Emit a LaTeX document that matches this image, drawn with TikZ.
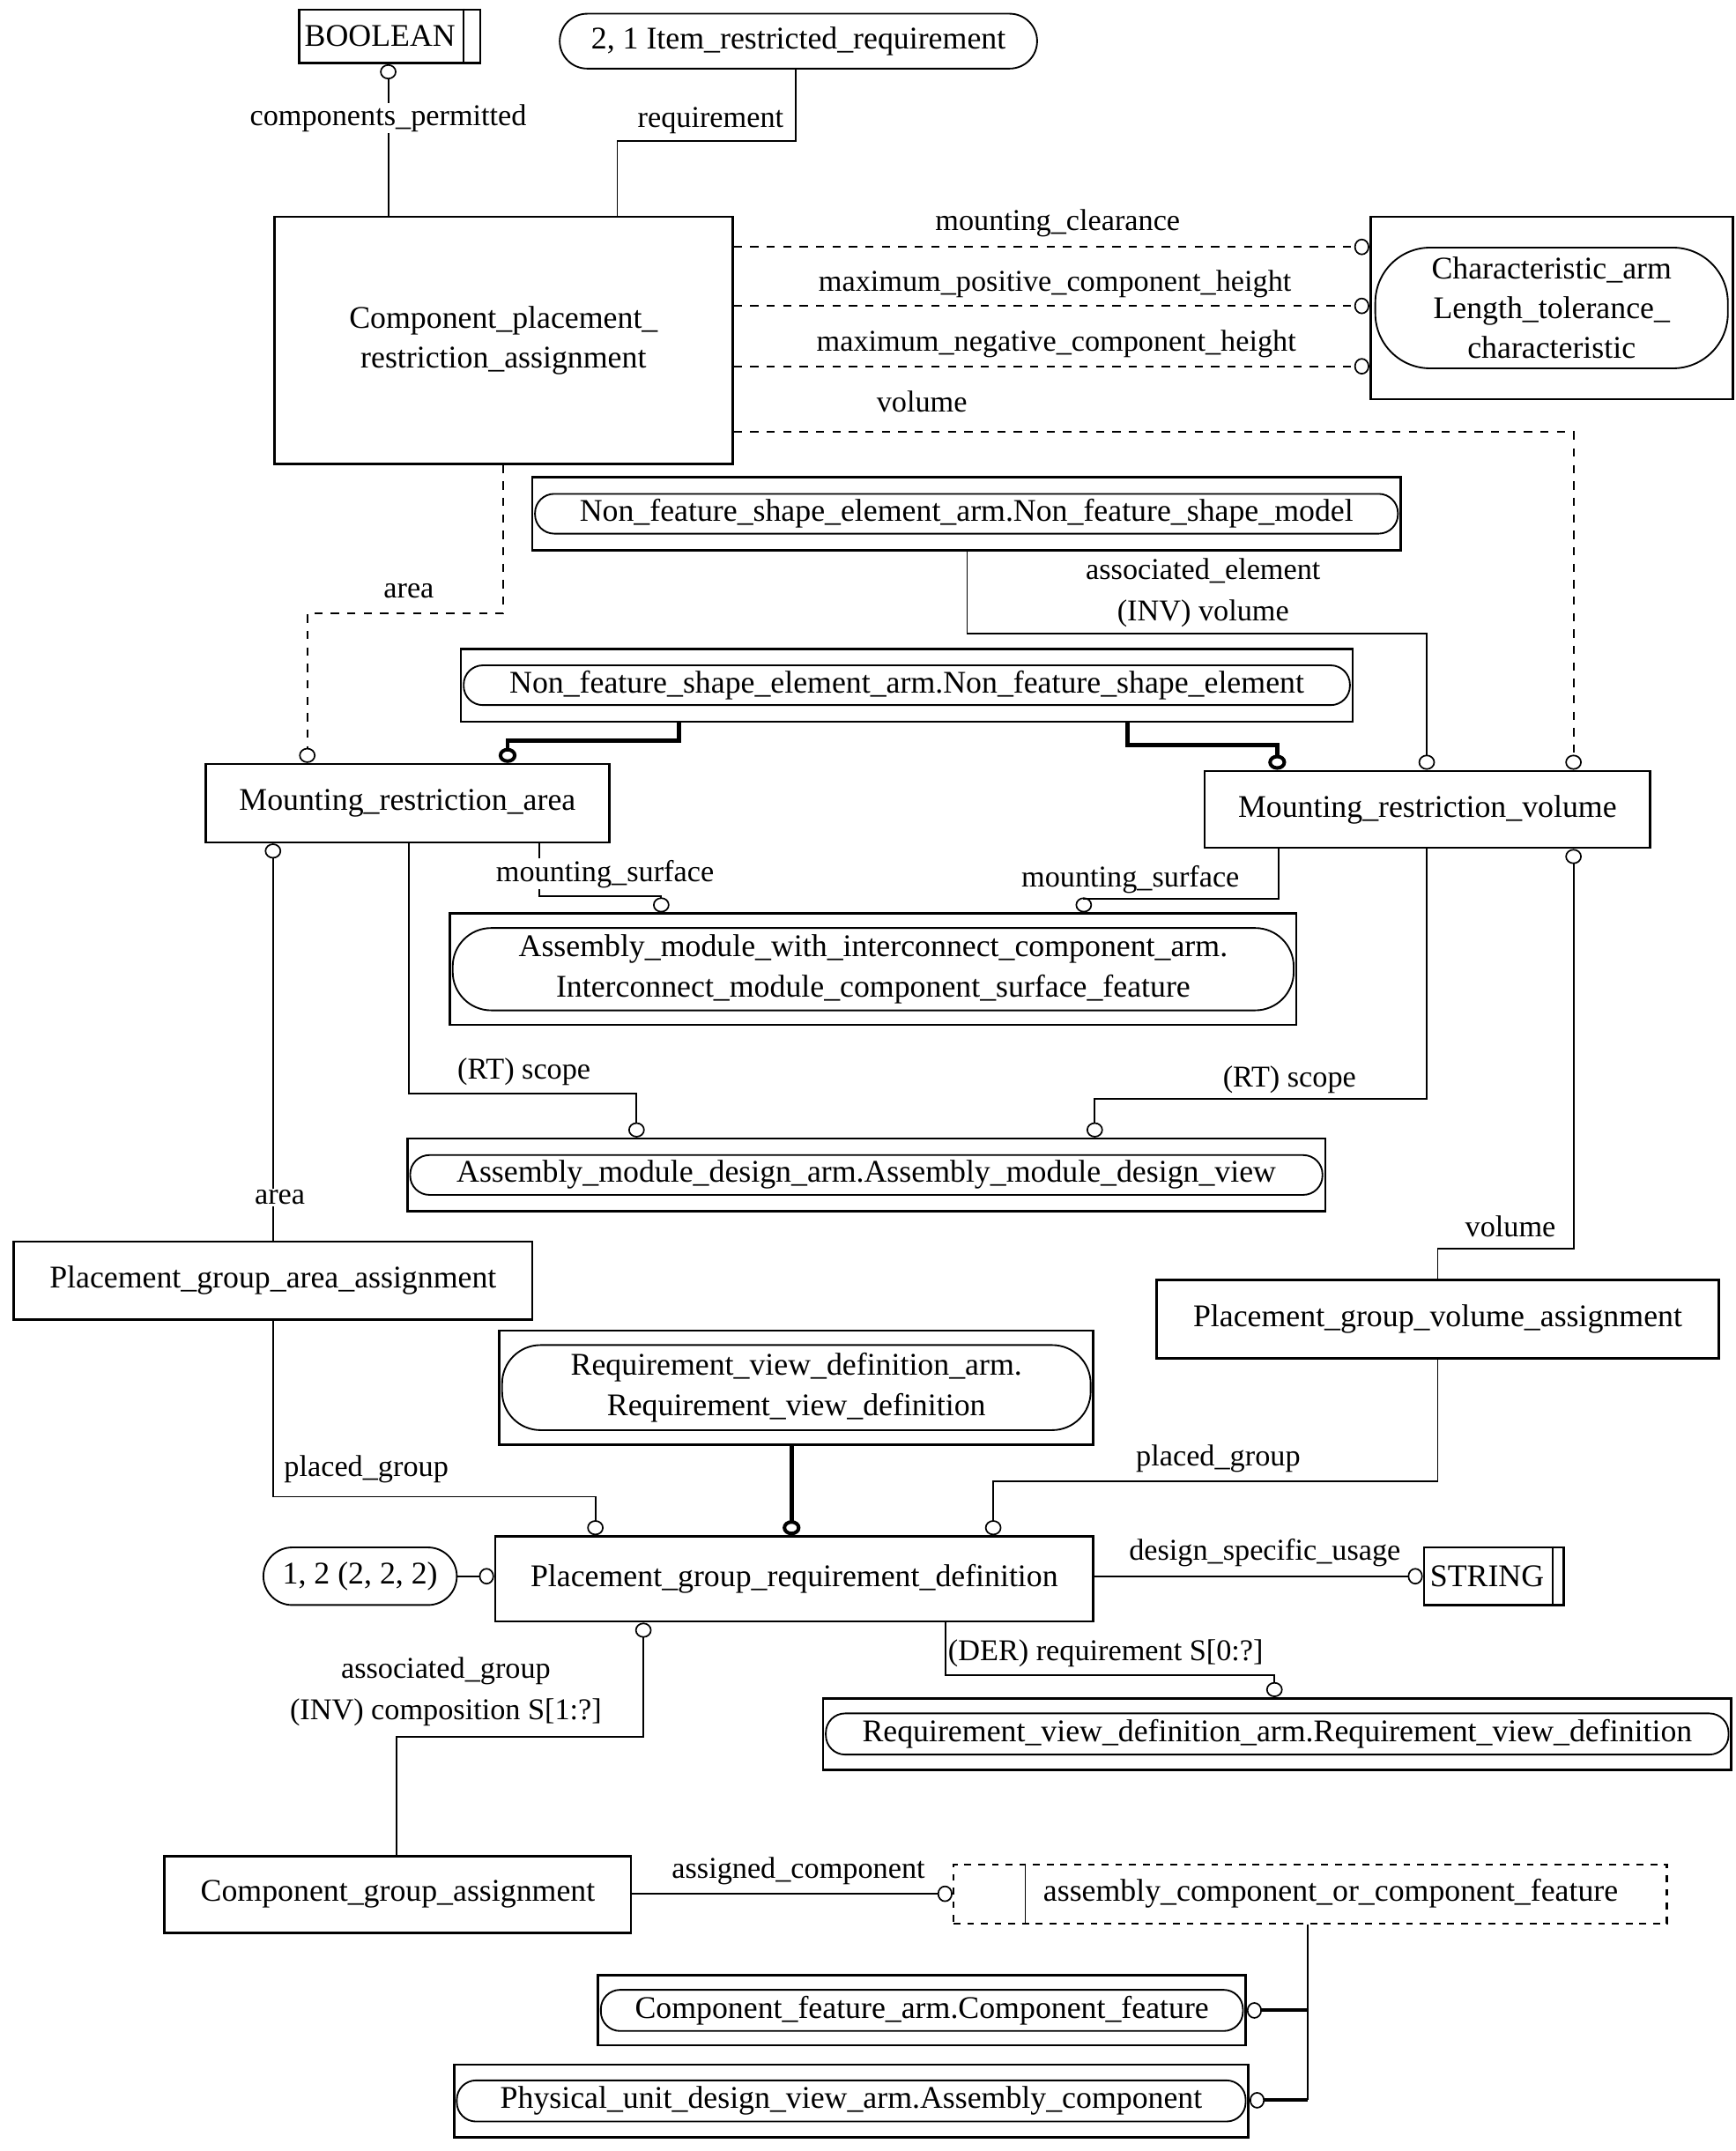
\documentclass[tikz,border=0pt]{standalone}
\usepackage{fontspec}
\setmainfont{Liberation Serif}
\usetikzlibrary{arrows.meta, positioning}

\begin{document}
\begin{tikzpicture}[x=1pt, y=-1pt,
  ent/.style={rectangle, draw, line width=1.7pt, inner sep=0pt, align=center,
              font=\fontsize{23}{29}\selectfont},
  pill/.style={ent, line width=1.2pt, rounded corners=14pt},
  lbl/.style={inner sep=1pt, fill=white, align=center,
              font=\fontsize{22}{30}\selectfont},
  rel/.style={line width=1.2pt},
  dl/.style={rel, dash pattern=on 6pt off 6pt},
  opt/.style={-{Circle[open, length=11pt, width=12pt, line width=1.1pt]}},
  subl/.style={line width=3pt, -{Circle[open, length=11pt, width=13pt, line width=2.6pt]}},
  brl/.style={line width=2.6pt},
]
  \useasboundingbox (0,0) rectangle (1265,1568);

  % entities
  \node[ent, minimum width=132pt, minimum height=39pt] (bool) at (284,26.5) {BOOLEAN\hspace*{14pt}};
  \draw[line width=1pt] ([xshift=-13pt]bool.north east) -- ([xshift=-13pt]bool.south east);
  \node[pill, rounded corners=20pt, minimum width=348pt, minimum height=40pt] (irr) at (582,30) {2, 1 Item\_restricted\_requirement};
  \node[ent, minimum width=334pt, minimum height=180pt] (cpra) at (367,248) {Component\_placement\_\\restriction\_assignment};

  \node[ent, minimum width=264pt, minimum height=133pt] (lench) at (1131,224.5) {};
  \node[pill, rounded corners=40pt, minimum width=257pt, minimum height=88pt] (lenchi) at (lench) {Characteristic\_arm\\Length\_tolerance\_\\characteristic};

  \node[ent, minimum width=633pt, minimum height=53pt] (nfsm) at (704.5,374.5) {};
  \node[pill, minimum width=629pt, minimum height=29pt] (nfsmi) at (nfsm) {Non\_feature\_shape\_element\_arm.Non\_feature\_shape\_model};
  \node[ent, minimum width=650pt, minimum height=53pt] (nfse) at (661,499.5) {};
  \node[pill, minimum width=646pt, minimum height=29pt] (nfsei) at (nfse) {Non\_feature\_shape\_element\_arm.Non\_feature\_shape\_element};

  \node[ent, minimum width=294pt, minimum height=57pt] (mra) at (297,585.5) {Mounting\_restriction\_area};
  \node[ent, minimum width=325pt, minimum height=56pt] (mrv) at (1040.5,590) {Mounting\_restriction\_volume};

  \node[ent, minimum width=617pt, minimum height=81pt] (amicsf) at (636.5,706.5) {};
  \node[pill, rounded corners=28pt, minimum width=613pt, minimum height=60pt] (amicsfi) at (amicsf) {Assembly\_module\_with\_interconnect\_component\_arm.\\Interconnect\_module\_component\_surface\_feature};
  \node[ent, minimum width=669pt, minimum height=53pt] (amdv) at (631.5,856.5) {};
  \node[pill, minimum width=665pt, minimum height=29pt] (amdvi) at (amdv) {Assembly\_module\_design\_arm.Assembly\_module\_design\_view};

  \node[ent, minimum width=378pt, minimum height=57pt] (pgaa) at (199,933.5) {Placement\_group\_area\_assignment};
  \node[ent, minimum width=410pt, minimum height=57pt] (pgva) at (1048,961.5) {Placement\_group\_volume\_assignment};

  \node[ent, minimum width=433pt, minimum height=83pt] (rvd) at (580.5,1011.5) {};
  \node[pill, rounded corners=28pt, minimum width=429pt, minimum height=62pt] (rvdi) at (rvd) {Requirement\_view\_definition\_arm.\\Requirement\_view\_definition};

  \node[ent, minimum width=436pt, minimum height=62pt] (pgrd) at (579,1151) {Placement\_group\_requirement\_definition};
  \node[pill, rounded corners=21pt, minimum width=141pt, minimum height=42pt] (card) at (262.5,1149) {1, 2 (2, 2, 2)};
  \node[ent, minimum width=102pt, minimum height=42pt] (str) at (1089,1149) {STRING\hspace*{10pt}};
  \draw[line width=1pt] ([xshift=-9pt]str.north east) -- ([xshift=-9pt]str.south east);

  \node[ent, minimum width=662pt, minimum height=52pt] (rvdb) at (931,1264) {};
  \node[pill, minimum width=658pt, minimum height=30pt] (rvdbi) at (rvdb) {Requirement\_view\_definition\_arm.Requirement\_view\_definition};

  \node[ent, minimum width=340pt, minimum height=56pt] (cga) at (290,1381) {Component\_group\_assignment};
  \node[ent, dash pattern=on 5pt off 5pt, line width=1.3pt, minimum width=520pt, minimum height=43pt] (sel) at (955,1380.5) {\hspace*{30pt}assembly\_component\_or\_component\_feature};
  \draw[line width=0.8pt] ([xshift=53pt]sel.north west) -- ([xshift=53pt]sel.south west);

  \node[ent, minimum width=472pt, minimum height=51pt] (cf) at (672,1465.5) {};
  \node[pill, minimum width=468pt, minimum height=30pt] (cfi) at (cf) {Component\_feature\_arm.Component\_feature};
  \node[ent, minimum width=579pt, minimum height=53pt] (pa) at (620.5,1531.5) {};
  \node[pill, minimum width=575pt, minimum height=30pt] (pai) at (pa) {Physical\_unit\_design\_view\_arm.Assembly\_component};

  % relations
  \draw[rel, opt] (cpra.north -| 283,0) -- (bool.south -| 283,0);
  \draw[rel] (cpra.north -| 450,0) |- (580,103) -- (irr.south -| 580,0);
  \draw[dl, opt] (cpra.east |- 0,180) -- (lench.west |- 0,180);
  \draw[dl, opt] (cpra.east |- 0,223) -- (lench.west |- 0,223);
  \draw[dl, opt] (cpra.east |- 0,267) -- (lench.west |- 0,267);
  \draw[dl, opt] (cpra.east |- 0,315) -| (mrv.north -| 1147,0);
  \draw[dl, opt] (cpra.south -| 367,0) |- (224,447) -- (mra.north -| 224,0);
  \draw[rel, opt] (nfsm.south -| 705,0) |- (1040,462) -- (mrv.north -| 1040,0);
  \draw[subl] (nfse.south -| 495,0) |- (370,540) -- (mra.north -| 370,0);
  \draw[subl] (nfse.south -| 822,0) |- (931,543) -- (mrv.north -| 931,0);
  \draw[rel, opt] (pgaa.north -| 199,0) -- (mra.south -| 199,0);
  \draw[rel, opt] (mra.south -| 298,0) |- (464,797) -- (amdv.north -| 464,0);
  \draw[rel, opt] (mra.south -| 393,0) |- (482,653) -- (amicsf.north -| 482,0);
  \draw[rel, opt] (mrv.south -| 932,0) |- (790,655) -- (amicsf.north -| 790,0);
  \draw[rel, opt] (mrv.south -| 1040,0) |- (798,801) -- (amdv.north -| 798,0);
  \draw[rel, opt] (pgva.north -| 1048,0) |- (1147,910) -- (mrv.south -| 1147,0);
  \draw[rel, opt] (pgaa.south -| 199,0) |- (434,1091) -- (pgrd.north -| 434,0);
  \draw[subl] (rvd.south -| 577,0) -- (pgrd.north -| 577,0);
  \draw[rel, opt] (pgva.south -| 1048,0) |- (724,1080) -- (pgrd.north -| 724,0);
  \draw[rel, opt] (card.east) -- (pgrd.west |- card.east);
  \draw[rel, opt] (pgrd.east |- str.west) -- (str.west);
  \draw[rel, opt] (cga.north -| 289,0) |- (469,1266) -- (pgrd.south -| 469,0);
  \draw[rel, opt] (pgrd.south -| 689,0) |- (929,1221) -- (rvdb.north -| 929,0);
  \draw[rel, opt] (cga.east |- sel.west) -- (sel.west);
  \coordinate (jn) at (953,1531);
  \draw[rel] (sel.south -| jn) -- (jn);
  \draw[brl, opt] (jn |- cf.east) -- (cf.east);
  \draw[brl, opt] (jn) -- (pa.east |- jn);

  % role labels
  \node[lbl] (l1) at (283,86) {components\_permitted};
  \node[lbl] (l2) at (518,88) {requirement};
  \node[lbl] (l3) at (771,163) {mounting\_clearance};
  \node[lbl] (l4) at (769,207) {maximum\_positive\_component\_height};
  \node[lbl] (l5) at (770,251) {maximum\_negative\_component\_height};
  \node[lbl] (l6) at (672,293) {volume};
  \node[lbl] (l7) at (298,431) {area};
  \node[lbl] (l8) at (877,432) {associated\_element\\(INV) volume};
  \node[lbl] (l9) at (441,637) {mounting\_surface};
  \node[lbl] (l10) at (824,641) {mounting\_surface};
  \node[lbl] (l11) at (382,781) {(RT) scope};
  \node[lbl] (l12) at (940,787) {(RT) scope};
  \node[lbl] (l13) at (204,873) {area};
  \node[lbl] (l14) at (1101,894) {volume};
  \node[lbl] (l15) at (267,1071) {placed\_group};
  \node[lbl] (l16) at (888,1063) {placed\_group};
  \node[lbl] (l17) at (922,1132) {design\_specific\_usage};
  \node[lbl] (l18) at (325,1233) {associated\_group\\(INV) composition S[1:?]};
  \node[lbl] (l19) at (806,1205) {(DER) requirement S[0:?]};
  \node[lbl] (l20) at (582,1364) {assigned\_component};
\end{tikzpicture}
\end{document}
